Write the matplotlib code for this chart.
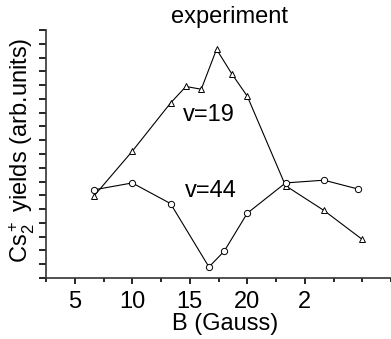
import matplotlib
matplotlib.use("Agg")
import matplotlib.pyplot as plt
from matplotlib.ticker import MultipleLocator, FixedLocator

plt.rcParams['font.family'] = ['Liberation Sans', 'DejaVu Sans']
plt.rcParams['mathtext.fontset'] = 'custom'
plt.rcParams['mathtext.rm'] = 'Liberation Sans'
plt.rcParams['mathtext.it'] = 'Liberation Sans:italic'
plt.rcParams['mathtext.default'] = 'regular'

# v = 19 series (triangles)
b_v19 = [6.67, 10.0, 13.33, 14.67, 16.0, 17.33, 18.67, 20.0, 23.33, 26.67, 30.0]
y_v19 = [5.95, 9.2, 12.7, 13.9, 13.7, 16.6, 14.8, 13.2, 6.7, 4.9, 2.8]

# v = 44 series (circles)
b_v44 = [6.67, 10.0, 13.33, 16.67, 18.0, 20.0, 23.33, 26.67, 29.67]
y_v44 = [6.4, 6.9, 5.4, 0.8, 1.95, 4.7, 6.9, 7.1, 6.45]

xtick_pos = [5, 10, 15, 20, 25]
xtick_labels = ['5', '10', '15', '20', '2']

FS = 17
W, H = 391, 339
fig = plt.figure(figsize=(W / 100, H / 100), dpi=100)
ax = fig.add_axes([46 / W, (H - 278) / H, 1 - 46 / W, (278 - 30) / H])

ax.plot(b_v19, y_v19, color='black', lw=0.8, marker='^', markersize=4.5,
        markerfacecolor='white', markeredgecolor='black', markeredgewidth=0.7)
ax.plot(b_v44, y_v44, color='black', lw=0.8, marker='o', markersize=4.5,
        markerfacecolor='white', markeredgecolor='black', markeredgewidth=0.7)

ax.set_xlim(2.5, 32.5)
ax.set_ylim(0, 18)

ax.spines['top'].set_visible(False)
ax.spines['right'].set_visible(False)
for s in ('left', 'bottom'):
    ax.spines[s].set_linewidth(1.2)
    ax.spines[s].set_color('#333333')

ax.xaxis.set_major_locator(FixedLocator(xtick_pos))
ax.set_xticklabels(xtick_labels)
ax.xaxis.set_minor_locator(MultipleLocator(2.5))
ax.yaxis.set_major_locator(MultipleLocator(1))
ax.set_yticklabels([])
ax.tick_params(axis='x', which='major', direction='out', length=4, width=1.2,
               labelsize=FS, pad=5)
ax.tick_params(axis='x', which='minor', direction='out', length=3, width=1.2)
ax.tick_params(axis='y', which='major', direction='out', length=5, width=1.2)

ax.text(14.4, 11.4, 'v=19', fontsize=FS, ha='left', va='baseline')
ax.text(14.6, 5.88, 'v=44', fontsize=FS, ha='left', va='baseline')

fig.text(229 / W, 1 - 23 / H, 'experiment', fontsize=FS, ha='center', va='baseline')
fig.text(225 / W, 1 - 330 / H, 'B (Gauss)', fontsize=FS, ha='center', va='baseline')
fig.text(22 / W, 1 - 150 / H, r'Cs$_2^+$ yields (arb.units)', fontsize=FS,
         rotation=90, ha='center', va='center')

fig.savefig('out.png', dpi=100)
